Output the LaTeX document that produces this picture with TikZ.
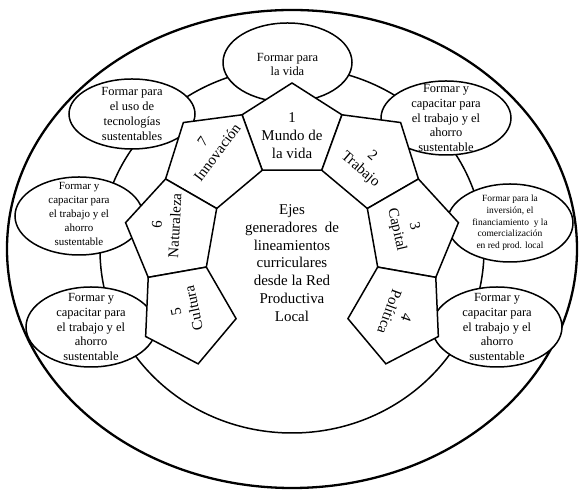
\documentclass[tikz,border=0pt]{standalone}
\usepackage{fontspec}
\setmainfont{Liberation Serif}
\usetikzlibrary{shapes.geometric}
\begin{document}
\begin{tikzpicture}[x=1bp,y=1bp,
  ring/.style={draw, line width=1.5bp},
  outerring/.style={draw, line width=2.3bp},
  bubble/.style={draw, fill=white, line width=1.5bp, ellipse, inner sep=0pt},
  pent/.style={draw, fill=white, line width=1.5bp, line join=miter},
  btext/.style={align=center, inner sep=0pt, font=\fontsize{12.5}{15}\selectfont},
  ptext/.style={align=center, inner sep=0pt, font=\fontsize{15}{18}\selectfont}]
\useasboundingbox (0,0) rectangle (579,492);
\coordinate (C) at (292,240);
% rings
\draw[ring] (292,242) ellipse [x radius=192bp, y radius=183bp];
\draw[outerring] (292,243) ellipse [x radius=285bp, y radius=239bp];
% bubbles
\node[bubble, minimum width=129bp, minimum height=79bp] (e1) at (287.5,429.5) {};
\node[bubble, minimum width=126bp, minimum height=70bp] (e7) at (132,378) {};
\node[bubble, minimum width=128bp, minimum height=78bp] (e6) at (79,276) {};
\node[bubble, minimum width=130bp, minimum height=80bp] (e5) at (91,165) {};
\node[bubble, minimum width=130bp, minimum height=74bp] (e2) at (446,374) {};
\node[bubble, minimum width=126bp, minimum height=78bp] (e3) at (510,269) {};
\node[bubble, minimum width=130bp, minimum height=80bp] (e4) at (497,165) {};
% pentagons
\foreach \m in {90,50,10,-30,130,170,210} {
  \pgfmathsetmacro\pa{\m+20}
  \pgfmathsetmacro\pb{\m-20}
  \draw[pent, shift={(C)}] (\pa:87) -- (\pa:146) -- (\m:169) -- (\pb:146) -- (\pb:87) -- cycle;
}
% bubble texts
\node[btext] (t1) at ([yshift=-2]e1) {Formar para\\la vida};
\node[btext] (t7) at (e7) {Formar para\\el uso de\\tecnologías\\sustentables};
\node[btext, font=\fontsize{11}{14.2}\selectfont] (t6) at ([yshift=2]e6) {Formar y\\capacitar para\\el trabajo y el\\ahorro\\sustentable};
\node[btext] (t5) at (e5) {Formar y\\capacitar para\\el trabajo y el\\ahorro\\sustentable};
\node[btext] (t2) at (e2) {Formar y\\capacitar para\\el trabajo y el\\ahorro\\sustentable};
\node[btext, font=\fontsize{9.5}{11.7}\selectfont] (t3) at (e3) {Formar para la\\inversión, el\\financiamiento\ \ y la\\comercialización\\en red prod. local};
\node[btext] (t4) at (e4) {Formar y\\capacitar para\\el trabajo y el\\ahorro\\sustentable};
% pentagon texts
\node[ptext] (p1) at (292,356) {1\\Mundo de\\la vida};
\node[ptext, rotate=-41] (p2) at (366,329) {2\\Trabajo};
\node[ptext, rotate=-77] (p3) at (405,264) {3\\Capital};
\node[ptext, rotate=-110] (p4) at (398,177) {4\\Política};
\node[ptext, rotate=102] (p5) at (185,182) {5\\Cultura};
\node[ptext, rotate=87] (p6) at (166,267) {6\\Naturaleza};
\node[ptext, rotate=53] (p7) at (210,345) {7\\Innovación};
% centre text
\node[align=center, inner sep=0pt, font=\fontsize{15}{17.8}\selectfont] (c) at (292,229)
  {Ejes\\generadores\ \ de\\lineamientos\\curriculares\\desde la Red\\Productiva\\Local};
\end{tikzpicture}
\end{document}
